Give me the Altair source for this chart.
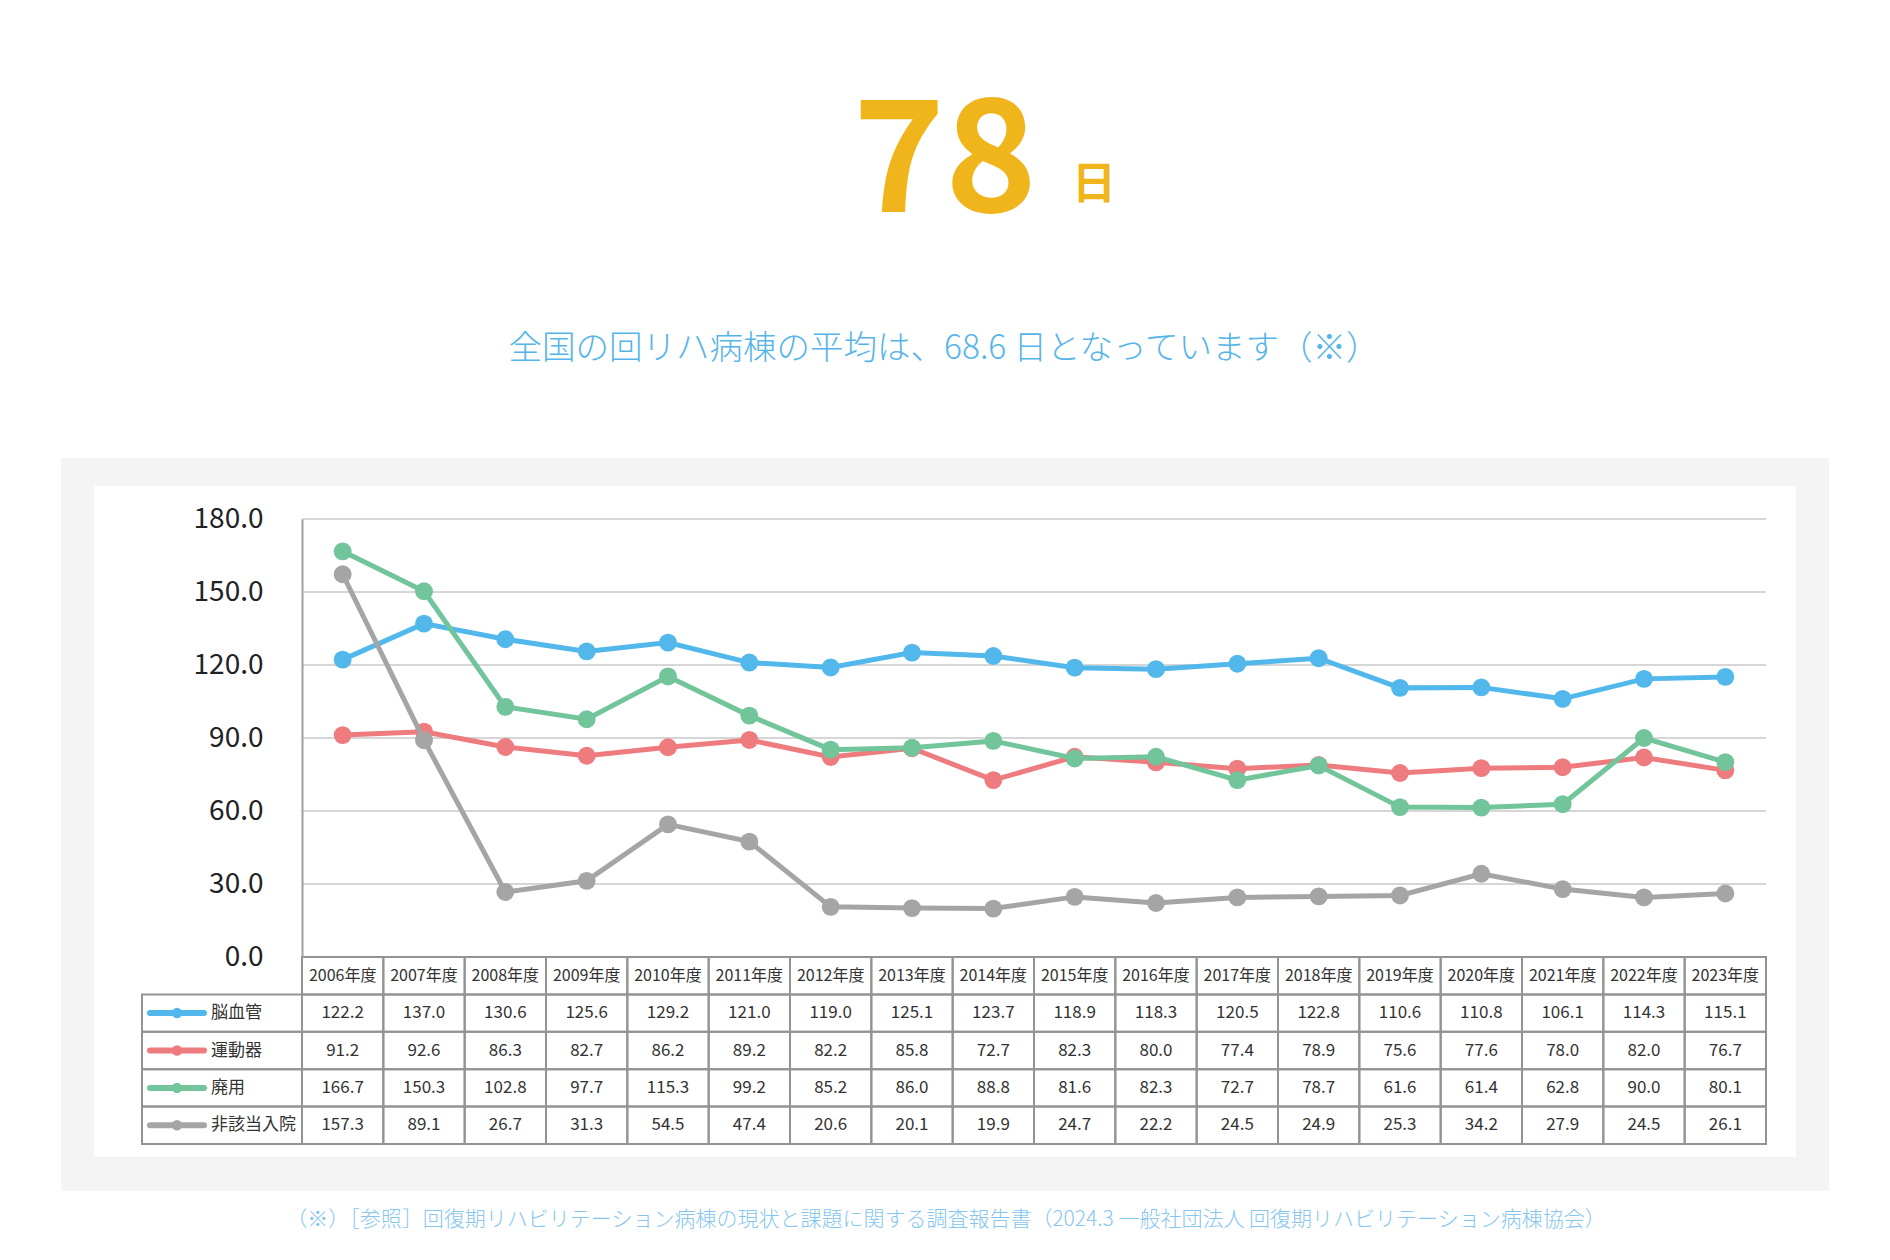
import altair as alt
import pandas as pd

years = ["2006年度", "2007年度", "2008年度", "2009年度", "2010年度", "2011年度",
         "2012年度", "2013年度", "2014年度", "2015年度", "2016年度", "2017年度",
         "2018年度", "2019年度", "2020年度", "2021年度", "2022年度", "2023年度"]
series_names = ["脳血管", "運動器", "廃用", "非該当入院"]
nokekkan = [122.2, 137.0, 130.6, 125.6, 129.2, 121.0, 119.0, 125.1, 123.7,
            118.9, 118.3, 120.5, 122.8, 110.6, 110.8, 106.1, 114.3, 115.1]
undoki = [91.2, 92.6, 86.3, 82.7, 86.2, 89.2, 82.2, 85.8, 72.7,
          82.3, 80.0, 77.4, 78.9, 75.6, 77.6, 78.0, 82.0, 76.7]
haiyo = [166.7, 150.3, 102.8, 97.7, 115.3, 99.2, 85.2, 86.0, 88.8,
         81.6, 82.3, 72.7, 78.7, 61.6, 61.4, 62.8, 90.0, 80.1]
higaito = [157.3, 89.1, 26.7, 31.3, 54.5, 47.4, 20.6, 20.1, 19.9,
           24.7, 22.2, 24.5, 24.9, 25.3, 34.2, 27.9, 24.5, 26.1]
series_values = [nokekkan, undoki, haiyo, higaito]
colors = ["#52B8EC", "#EE7B7E", "#72C49A", "#A5A5A5"]
y_ticks = [0, 30, 60, 90, 120, 150, 180]

big_number = "78"
big_unit = "日"
subtitle = "全国の回リハ病棟の平均は、68.6 日となっています（※）"
footnote = "（※）［参照］回復期リハビリテーション病棟の現状と課題に関する調査報告書（2024.3 一般社団法人 回復期リハビリテーション病棟協会）"

FONT = "Noto Sans CJK JP"
W = 1464
PLOT_H = 438
TABLE_H = 187
H = PLOT_H + TABLE_H
rows = ["header"] + series_names

xs = alt.Scale(domain=years, paddingInner=0, paddingOuter=0)
ys = alt.Scale(domain=[0, 180], range=[PLOT_H, 0], nice=False, zero=False)
ts = alt.Scale(domain=rows, range=[PLOT_H, H], paddingInner=0, paddingOuter=0)

one = pd.DataFrame({"a": [0]})

# backgrounds
panel = alt.Chart(one).mark_rect(fill="#F4F4F4").encode(
    x=alt.value(-241), x2=alt.value(1527), y=alt.value(-61), y2=alt.value(672))
inner = alt.Chart(one).mark_rect(fill="#FFFFFF").encode(
    x=alt.value(-208), x2=alt.value(1494), y=alt.value(-33), y2=alt.value(638))

# titles
t_num = alt.Chart(pd.DataFrame({"t": [big_number]})).mark_text(
    font=FONT, fontSize=156, fontWeight="bold", color="#EFB51B", align="center",
    baseline="alphabetic").encode(text="t:N", x=alt.value(643), y=alt.value(-307))
t_unit = alt.Chart(pd.DataFrame({"t": [big_unit]})).mark_text(
    font=FONT, fontSize=44, fontWeight="bold", color="#EFB51B", align="center",
    baseline="alphabetic").encode(text="t:N", x=alt.value(792), y=alt.value(-320))
t_sub = alt.Chart(pd.DataFrame({"t": [subtitle]})).mark_text(
    font=FONT, fontSize=33.5, fontWeight=300, color="#56B5E8", align="center",
    baseline="middle").encode(text="t:N", x=alt.value(642), y=alt.value(-170))
t_foot = alt.Chart(pd.DataFrame({"t": [footnote]})).mark_text(
    font=FONT, fontSize=21, fontWeight=300, color="#86C6EE", align="center",
    baseline="middle").encode(text="t:N", x=alt.value(644), y=alt.value(701))

# grid + axis
grid = alt.Chart(pd.DataFrame({"tick": y_ticks})).mark_rule(
    color="#C9C9C9", strokeWidth=1.5).encode(
    y=alt.Y("tick:Q", scale=ys,
            axis=alt.Axis(values=y_ticks, format=".1f", grid=False, ticks=False,
                          tickSize=0, labelPadding=39, domainColor="#A0A0A0",
                          domainWidth=2, labelFont=FONT, labelFontSize=28,
                          labelColor="#222222", title=None, zindex=1)))

# lines per series
line_layers = []
for name, vals, col in zip(series_names, series_values, colors):
    d = pd.DataFrame({"year": years, "value": vals, "series": name})
    base = alt.Chart(d).encode(
        x=alt.X("year:N", scale=xs, axis=None, sort=years),
        y=alt.Y("value:Q", scale=ys, axis=None))
    line_layers.append(base.mark_line(color=col, strokeWidth=5))
    line_layers.append(base.mark_point(color=col, filled=True, opacity=1, size=320))

# table
header_df = pd.DataFrame({"year": years, "row": "header"})
cells_df = pd.DataFrame([
    {"year": y, "row": s, "txt": f"{v:.1f}"}
    for s, vals in zip(series_names, series_values)
    for y, v in zip(years, vals)])
label_df = pd.DataFrame({"row": series_names, "color": colors})

tx = alt.X("year:N", scale=xs, axis=None, sort=years)
ty = alt.Y("row:N", scale=ts, axis=None, sort=rows)
border = dict(filled=False, stroke="#939393", strokeWidth=2)

header_rect = alt.Chart(header_df).mark_rect(**border).encode(x=tx, y=ty)
header_txt = alt.Chart(header_df).mark_text(
    font=FONT, fontSize=16, color="#333333").encode(x=tx, y=ty, text="year:N")
cell_rect = alt.Chart(cells_df).mark_rect(**border).encode(x=tx, y=ty)
cell_txt = alt.Chart(cells_df).mark_text(
    font=FONT, fontSize=17, color="#333333").encode(x=tx, y=ty, text="txt:N")
label_rect = alt.Chart(label_df).mark_rect(**border).encode(
    x=alt.value(-160), x2=alt.value(0), y=ty)
swatch_line = alt.Chart(label_df).mark_rule(strokeWidth=6, strokeCap="round").encode(
    x=alt.value(-152), x2=alt.value(-98), y=ty,
    color=alt.Color("color:N", scale=None))
swatch_dot = alt.Chart(label_df).mark_point(filled=True, opacity=1, size=110).encode(
    x=alt.value(-125), y=ty, color=alt.Color("color:N", scale=None))
label_txt = alt.Chart(label_df).mark_text(
    font=FONT, fontSize=17, color="#333333", align="left").encode(
    x=alt.value(-91), y=ty, text="row:N")

chart = alt.layer(
    panel, inner, t_num, t_unit, t_sub, t_foot, grid, *line_layers,
    header_rect, header_txt, cell_rect, cell_txt, label_rect,
    swatch_line, swatch_dot, label_txt
).resolve_scale(y="independent").properties(
    width=W, height=H,
    autosize=alt.AutoSizeParams(type="none"),
    padding={"left": 294, "top": 511, "right": 116, "bottom": 108},
).configure_view(stroke=None)

chart.save("out.html", embed_options={"renderer": "svg", "actions": False})
